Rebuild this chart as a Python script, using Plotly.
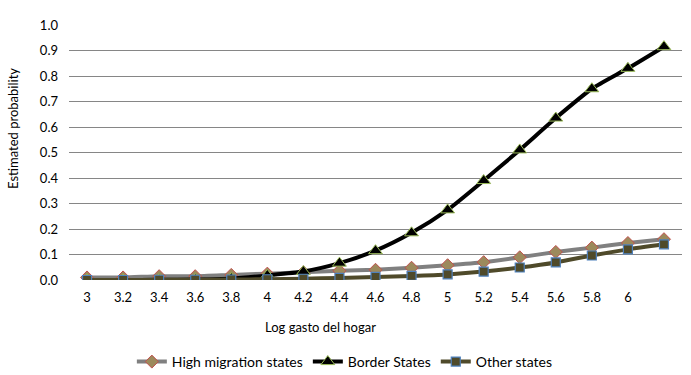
import plotly.graph_objects as go

x_vals = [3.0, 3.2, 3.4, 3.6, 3.8, 4.0, 4.2, 4.4, 4.6, 4.8, 5.0, 5.2, 5.4, 5.6, 5.8, 6.0, 6.2]
tick_vals = [3.0, 3.2, 3.4, 3.6, 3.8, 4.0, 4.2, 4.4, 4.6, 4.8, 5.0, 5.2, 5.4, 5.6, 5.8, 6.0]
tick_text = ["3", "3.2", "3.4", "3.6", "3.8", "4", "4.2", "4.4", "4.6", "4.8", "5", "5.2", "5.4", "5.6", "5.8", "6"]

high_migration = [0.010, 0.010, 0.015, 0.015, 0.020, 0.025, 0.030, 0.036, 0.040, 0.048, 0.058,
                  0.070, 0.089, 0.110, 0.127, 0.145, 0.160]
border_states = [0.000, 0.000, 0.001, 0.002, 0.006, 0.018, 0.033, 0.066, 0.115, 0.185, 0.275,
                 0.390, 0.510, 0.635, 0.750, 0.830, 0.915]
other_states = [0.000, 0.000, 0.001, 0.001, 0.002, 0.003, 0.005, 0.008, 0.012, 0.016, 0.022,
                0.033, 0.049, 0.069, 0.096, 0.120, 0.140]

font_family = "Lato, 'Open Sans', sans-serif"

fig = go.Figure()
fig.add_trace(go.Scatter(
    x=x_vals, y=high_migration, name="High migration states", mode="lines+markers",
    line=dict(color="#808080", width=4, shape="spline", smoothing=0.6),
    marker=dict(symbol="diamond", size=10, color="#9C8A5C", line=dict(color="#C0504D", width=1)),
))
fig.add_trace(go.Scatter(
    x=x_vals, y=border_states, name="Border States", mode="lines+markers",
    line=dict(color="#000000", width=4, shape="spline", smoothing=0.6),
    marker=dict(symbol="triangle-up", size=12, color="#000000", line=dict(color="#9BBB59", width=1)),
))
fig.add_trace(go.Scatter(
    x=x_vals, y=other_states, name="Other states", mode="lines+markers",
    line=dict(color="#4F4A2A", width=4, shape="spline", smoothing=0.6),
    marker=dict(symbol="square", size=9, color="#4F4A2A", line=dict(color="#4F81BD", width=1.2)),
))

pw, ph = 691 - 69 - 9, 375 - 25 - 95

fig.update_layout(
    width=691, height=375,
    margin=dict(l=69, r=9, t=25, b=95, autoexpand=False),
    paper_bgcolor="white", plot_bgcolor="white",
    font=dict(family=font_family, size=13, color="#000000"),
    showlegend=True,
    legend=dict(orientation="h", x=0.45, xanchor="center", y=(280 - 362) / ph, yanchor="middle",
                font=dict(size=14), itemwidth=30, tracegroupgap=0),
    xaxis=dict(range=[2.9, 6.3], tickvals=tick_vals, ticktext=tick_text, showgrid=False,
               zeroline=False, showline=False, ticks="", ticklabelstandoff=8, automargin=False,
               tickfont=dict(size=13)),
    yaxis=dict(range=[0, 1.0], dtick=0.1, tickformat=".1f", showgrid=True, gridcolor="#868686",
               gridwidth=1, zeroline=False, showline=False, ticks="", ticklabelstandoff=10,
               automargin=False, tickfont=dict(size=13)),
    annotations=[
        dict(text="Estimated probability", xref="paper", yref="paper",
             x=(13 - 69) / pw, y=(280 - 128) / ph, xanchor="center", yanchor="middle",
             showarrow=False, textangle=-90, font=dict(size=13)),
        dict(text="Log gasto del hogar", xref="paper", yref="paper",
             x=(320 - 69) / pw, y=(280 - 327) / ph, xanchor="center", yanchor="middle",
             showarrow=False, font=dict(size=13)),
    ],
)

fig.write_html("out.html",
               config={"displayModeBar": False},
               post_script="document.body.style.margin='0';document.body.style.overflow='hidden';")
